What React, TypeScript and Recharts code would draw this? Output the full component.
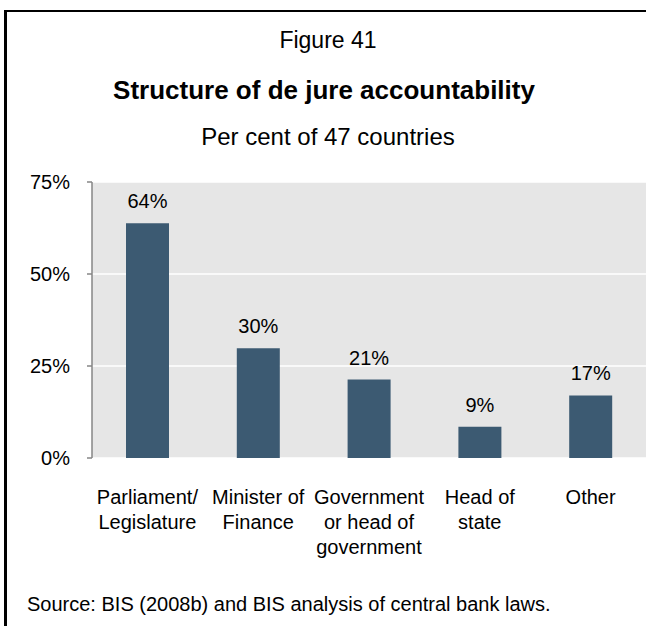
import React from "react";
import { BarChart, Bar, XAxis, YAxis, CartesianGrid, LabelList } from "recharts";

const categories = [
  "Parliament/\nLegislature",
  "Minister of\nFinance",
  "Government\nor head of\ngovernment",
  "Head of\nstate",
  "Other",
];
const shares = [63.8, 29.8, 21.3, 8.5, 17.0];
const yTicks = [0, 25, 50, 75];
const boundaryTicks = [0, 1, 2, 3, 4];

const data = categories.map((c, i) => ({ name: c, value: shares[i] }));

const FONT = "'Liberation Sans', Arial, sans-serif";

const CatTick = (props: any) => {
  const { x, y, payload } = props;
  const lines = String(payload.value).split("\n");
  return (
    <g>
      {lines.map((l, i) => (
        <text
          key={i}
          x={x}
          y={y + 46 + i * 25}
          textAnchor="middle"
          fontSize={20}
          fontFamily={FONT}
          fill="#000"
        >
          {l}
        </text>
      ))}
    </g>
  );
};

const ValueLabel = (props: any) => {
  const { x, y, width, value } = props;
  return (
    <text
      x={x + width / 2}
      y={y - 15}
      textAnchor="middle"
      fontSize={20}
      fontFamily={FONT}
      fill="#000"
    >
      {Math.round(value) + "%"}
    </text>
  );
};

export default function App() {
  return (
    <div
      style={{
        position: "absolute",
        left: 0,
        top: 0,
        width: 646,
        height: 626,
        overflow: "hidden",
        background: "#fff",
      }}
    >
      <svg width={646} height={626} style={{ position: "absolute", left: 0, top: 0 }}>
        <line x1={4} y1={11} x2={646} y2={11} stroke="#000" strokeWidth={2} />
        <line x1={5.5} y1={10} x2={5.5} y2={626} stroke="#000" strokeWidth={3} />
        <text x={328} y={48} textAnchor="middle" fontSize={23} fontFamily={FONT} fill="#000">
          Figure 41
        </text>
        <text x={324} y={99} textAnchor="middle" fontSize={26} fontWeight="bold" fontFamily={FONT} fill="#000">
          Structure of de jure accountability
        </text>
        <text x={328} y={145} textAnchor="middle" fontSize={24} fontFamily={FONT} fill="#000">
          Per cent of 47 countries
        </text>
        <text x={27} y={611} fontSize={20} fontFamily={FONT} fill="#000">
          Source: BIS (2008b) and BIS analysis of central bank laws.
        </text>
      </svg>
      <div style={{ position: "absolute", left: 0, top: 0 }}>
        <BarChart
          width={646}
          height={626}
          data={data}
          margin={{ top: 182, right: 0, bottom: 0, left: 0 }}
          barSize={43}
        >
          <CartesianGrid vertical={false} stroke="#ffffff" strokeWidth={1.5} fill="#e6e6e6" />
          <XAxis
            xAxisId="grid"
            type="number"
            dataKey={() => 0}
            domain={[0, 5]}
            ticks={boundaryTicks}
            tickFormatter={() => ""}
            height={0}
            axisLine={{ stroke: "#868686", strokeWidth: 1.5 }}
            tickLine={{ stroke: "#868686", strokeWidth: 1.5 }}
            tickSize={5}
            allowDataOverflow
          />
          <XAxis
            dataKey="name"
            interval={0}
            height={168}
            axisLine={false}
            tickLine={false}
            tickSize={0}
            tickMargin={0}
            tick={<CatTick />}
          />
          <YAxis
            domain={[0, 75]}
            ticks={yTicks}
            width={92}
            tickFormatter={(v: number) => v + "%"}
            axisLine={{ stroke: "#868686", strokeWidth: 1.5 }}
            tickLine={{ stroke: "#868686", strokeWidth: 1.5 }}
            tickSize={5}
            tickMargin={17}
            tick={{ fontSize: 20, fill: "#000", fontFamily: FONT }}
          />
          <Bar dataKey="value" fill="#3c5a72" isAnimationActive={false}>
            <LabelList dataKey="value" content={<ValueLabel />} />
          </Bar>
        </BarChart>
      </div>
    </div>
  );
}
